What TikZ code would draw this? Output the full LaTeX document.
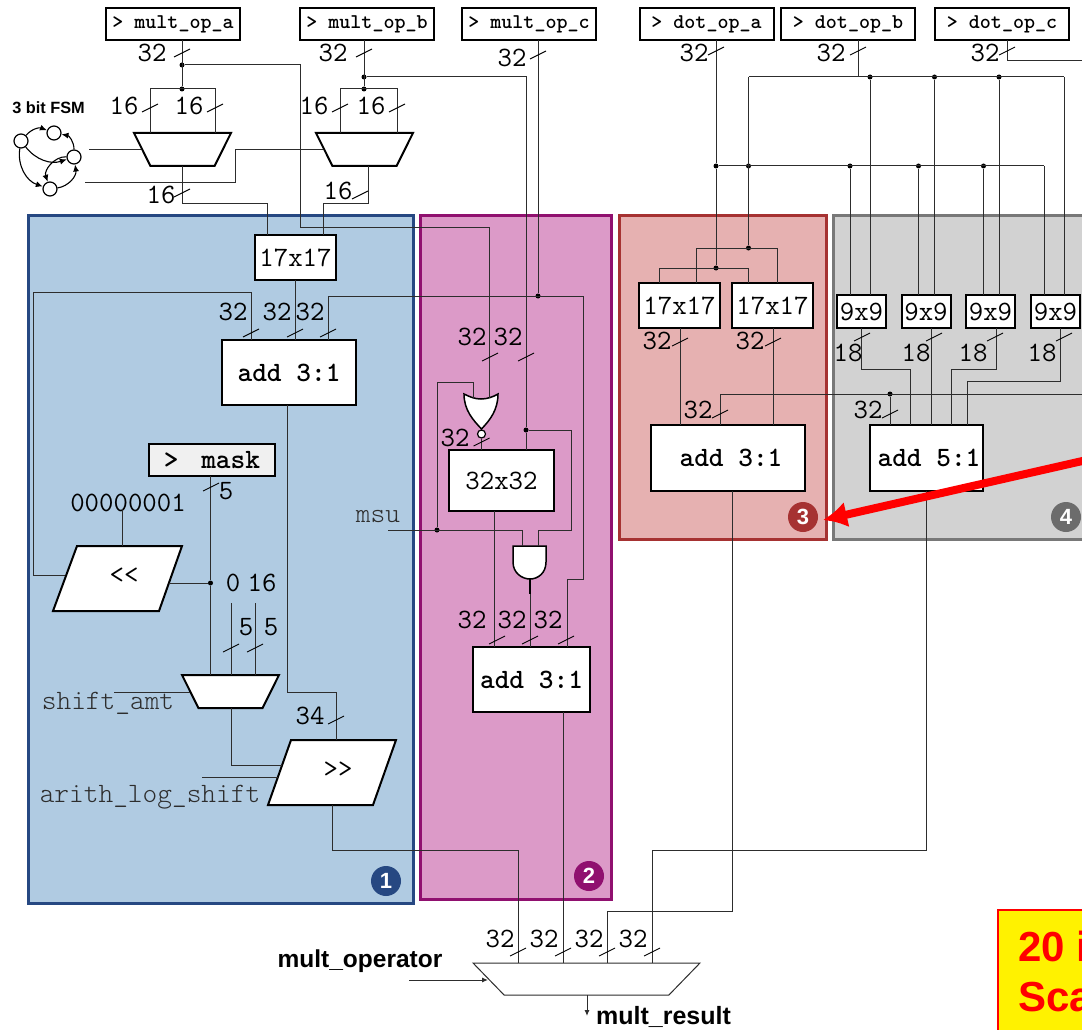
\documentclass[tikz,border=0pt]{standalone}
\usepackage{xcolor}
\usepackage{fontspec}
\setsansfont{Liberation Sans}
\usepackage{tikz}
\usetikzlibrary{shapes.geometric,arrows.meta,positioning,calc}
\definecolor{regionblue}{RGB}{176, 203, 226}
\definecolor{edgeblue}{RGB}{38, 72, 130}
\definecolor{regionpink}{RGB}{220, 154, 200}
\definecolor{edgepink}{RGB}{144, 16, 111}
\definecolor{regionred}{RGB}{230, 177, 177}
\definecolor{edgered}{RGB}{166, 50, 50}
\definecolor{regiongray}{RGB}{210, 210, 210}
\definecolor{edgegray}{RGB}{120, 120, 120}
\definecolor{wiregray}{RGB}{45, 45, 45}
\newcommand{\mono}[1]{\ttfamily\fontsize{#1}{#1}\selectfont}
\newcommand{\sans}[1]{\sffamily\bfseries\fontsize{#1}{#1}\selectfont}
\tikzset{
    region/.style={draw,line width=3pt,inner sep=0pt,outer sep=0pt},
    wire/.style={draw=wiregray,line width=1pt},
    junction/.style={circle,fill=black,inner sep=0pt,minimum size=5pt},
    busmark/.style={black,line width=0.9pt},
    buslabel/.style={inner sep=0pt,font=\mono{28}},
    regbox/.style={draw=black,line width=2pt,fill=white,inner sep=0pt,outer sep=0pt,minimum width=134pt,minimum height=32pt,font=\mono{21}\bfseries},
    mulbox/.style={draw=black,line width=2pt,fill=white,inner sep=0pt,outer sep=0pt,font=\mono{28}},
    addbox/.style={mulbox,font=\mono{28}\bfseries},
    muxbox/.style={trapezium,shape border rotate=180,trapezium angle=72.5,trapezium stretches=true,draw=black,line width=2pt,fill=white,inner sep=0pt,outer sep=0pt,minimum width=97pt,minimum height=33pt},
    shiftbox/.style={draw=black,line width=2pt,fill=white},
    gatebox/.style={draw=black,line width=1.5pt,fill=white},
    fsmstate/.style={circle,draw=black,line width=1.2pt,fill=white,inner sep=0pt,minimum size=14pt},
    fsmedge/.style={black,line width=1.1pt,-{Latex[length=7pt,width=6pt]}},
    badge/.style={circle,inner sep=0pt,minimum size=30pt,text=white,font=\sans{22}},
    sigtext/.style={inner sep=0pt,text=wiregray,font=\mono{28}\fontseries{l}\selectfont},
}

\begin{document}
\begin{tikzpicture}[x=1pt,y=-1pt]
    \useasboundingbox (0,0) rectangle (1082,1030);
    \clip (0,0) rectangle (1082,1030);

    % Four shaded multiplier paths
    \node[region,draw=edgeblue,fill=regionblue,minimum width=385pt,minimum height=688pt] (blue) at (220.5,559) {};
    \node[region,draw=edgepink,fill=regionpink,minimum width=191pt,minimum height=684pt] (pink) at (515.5,557) {};
    \node[region,draw=edgered,fill=regionred,minimum width=207pt,minimum height=324pt] (red) at (722.5,377) {};
    \node[region,draw=edgegray,fill=regiongray,minimum width=267pt,minimum height=324pt] (gray) at (966.5,377) {};

    % Operand registers
    \node[regbox] (opa) at (173,24) {> mult\_op\_a};
    \node[regbox] (opb) at (367,24) {> mult\_op\_b};
    \node[regbox] (opc) at (529,24) {> mult\_op\_c};
    \node[regbox] (dota) at (706.5,24) {> dot\_op\_a};
    \node[regbox] (dotb) at (848,24) {> dot\_op\_b};
    \node[regbox] (dotc) at (1002,24) {> dot\_op\_c};

    % Path 1 blocks
    \node[muxbox] (muxa) at (182.5,149.5) {\phantom{x}};
    \node[muxbox] (muxb) at (364.5,149.5) {\phantom{x}};
    \node[mulbox,minimum width=81pt,minimum height=45pt] (mula) at (295.5,257.5) {17x17};
    \node[addbox,minimum width=134pt,minimum height=65pt] (addb) at (289,372.5) {add 3:1};
    \node[regbox,fill=black!6,minimum width=126pt,font=\mono{28}\bfseries] (mask) at (212,460) {>\ \hspace{8pt}mask\hspace{23pt}};
    \node[buslabel] (zeros) at (128,503) {00000001};
    \filldraw[shiftbox] (77,546) -- (182,546) -- (159,611) -- (53,611) -- cycle;
    \node[buslabel] (shl) at (124,576) {<<};
    \node[muxbox] (muxc) at (230.5,691.5) {\phantom{x}};
    \filldraw[shiftbox] (291,740) -- (396,740) -- (373,805) -- (268,805) -- cycle;
    \node[buslabel] (shr) at (338,770) {>>};
    \node[sigtext] (shamt) at (108,703) {shift\_amt};
    \node[sigtext] (arith) at (150,797) {arith\_log\_shift};

    % Path 2 blocks
    \node[mulbox,minimum width=105pt,minimum height=61pt] (mulp) at (501.5,480.5) {32x32};
    \node[addbox,minimum width=117pt,minimum height=65pt] (addp) at (531.5,679.5) {add 3:1};
    \node[sigtext] (msu) at (378,517) {msu};
    \filldraw[gatebox] (464,394) .. controls (470,397) and (475,399) .. (481,399) .. controls (487,399) and (493,397) .. (498,394) .. controls (498,410) and (490,420) .. (481.5,429) .. controls (473,420) and (464,410) .. (464,394) -- cycle;
    \node[circle,draw=black,line width=1.2pt,fill=white,inner sep=0pt,minimum size=8pt] (bub) at (481.5,434) {};
    \filldraw[gatebox] (513,546) -- (546,546) -- (546,562) .. controls (546,573) and (538,579) .. (530,579) .. controls (522,579) and (513,573) .. (513,562) -- cycle;

    % Path 3 blocks
    \node[mulbox,minimum width=81pt,minimum height=45pt] (mulc) at (679.5,305.5) {17x17};
    \node[mulbox,minimum width=81pt,minimum height=45pt] (muld) at (772.5,305.5) {17x17};
    \node[addbox,minimum width=154pt,minimum height=66pt] (addr) at (728,458) {\hspace{6pt}add 3:1};

    % Path 4 blocks
    \foreach \x/\nm in {861.5/e,926/f,990.5/g,1055.5/h}
        \node[mulbox,minimum width=49pt,minimum height=33pt] (nine\nm) at (\x,311.5) {9x9};
    \node[addbox,minimum width=113pt,minimum height=66pt] (addg) at (926,458) {\hspace{6pt}add 5:1};

    % Output select
    \node[trapezium,shape border rotate=180,trapezium angle=77,trapezium stretches=true,draw=wiregray,line width=1pt,fill=white,inner sep=0pt,outer sep=0pt,minimum width=227pt,minimum height=32pt] (muxo) at (586.5,979) {\phantom{x}};
    \node[inner sep=0pt,font=\sans{24.5}] (oplabel) at (360,961) {mult\_operator};
    \node[inner sep=0pt,font=\sans{25}] (reslabel) at (663.5,1017) {mult\_result};

    % Operand a and b fan-out
    \node[junction] (ja1) at (182,65) {};
    \node[junction] (ja2) at (182,89) {};
    \coordinate (ja3) at (150,89);
    \coordinate (ja4) at (215,89);
    \node[junction] (jb1) at (364,77) {};
    \node[junction] (jb2) at (364,89) {};
    \coordinate (jb3) at (340,89);
    \coordinate (jb4) at (397,89);
    \draw[wire] (ja1 |- opa.south) -- (ja2);
    \draw[wire] (ja3 |- muxa.north) |- (ja4) -- (ja4 |- muxa.north);
    \draw[wire] (jb1 |- opb.south) -- (jb2);
    \draw[wire] (jb3 |- muxb.north) |- (jb4) -- (jb4 |- muxb.north);
    \coordinate (ma) at (267,203);
    \coordinate (mb) at (368.5,166);
    \coordinate (mc) at (323.5,203);
    \draw[wire] (ja2 |- muxa.south) |- (ma) -- (ma |- mula.north);
    \draw[wire] (mb) |- (mc) -- (mc |- mula.north);

    % Operand a and b into path 2
    \coordinate (ra1) at (300,227);
    \coordinate (ra2) at (489,227);
    \coordinate (ra3) at (489,398);
    \node[junction] (jd1) at (526,430) {};
    \coordinate (rb1) at (571,530);
    \coordinate (rb2) at (538,530);
    \coordinate (rb3) at (538,546);
    \draw[wire] (ja1) -| (ra1) -- (ra2) -- (ra3);
    \draw[wire] (jb1) -| (jd1) -- (jd1 |- mulp.north);
    \draw[wire] (jd1) -| (rb1) -- (rb2) -- (rb3);

    % Operand c
    \node[junction] (jc1) at (538,296) {};
    \coordinate (rc1) at (328,296);
    \coordinate (rc2) at (583,296);
    \coordinate (rc3) at (583,579);
    \coordinate (rc4) at (567,579);
    \draw[wire] (jc1 |- opc.south) -- (jc1);
    \draw[wire] (rc1 |- addb.north) -- (rc1) -- (rc2) -- (rc3) -- (rc4) -- (rc4 |- addp.north);

    % Path 1 wiring
    \coordinate (fb1) at (251,292);
    \coordinate (fb2) at (33,292);
    \coordinate (fb3) at (33,575);
    \coordinate (fb4) at (65,575);
    \coordinate (zr1) at (122,509);
    \coordinate (zr2) at (122,546);
    \node[junction] (jm1) at (210.5,583) {};
    \coordinate (shlin) at (169,583);
    \coordinate (cz1) at (231,603);
    \coordinate (cz2) at (255,603);
    \coordinate (sa1) at (114,692);
    \coordinate (sa2) at (190,692);
    \coordinate (sr1) at (231,765);
    \coordinate (sr2) at (282,765);
    \coordinate (al1) at (202,777);
    \coordinate (al2) at (278,777);
    \coordinate (ad1) at (287.5,692);
    \coordinate (ad2) at (336,692);
    \coordinate (ad3) at (336,740);
    \coordinate (so0) at (332,805);
    \coordinate (so1) at (332,850);
    \coordinate (so2) at (518,850);
    \draw[wire] (mula.south) -- (mula.south |- addb.north);
    \draw[wire] (fb1 |- addb.north) -- (fb1) -- (fb2) -- (fb3) -- (fb4);
    \draw[wire] (zr1) -- (zr2);
    \draw[wire] (jm1 |- mask.south) -- (jm1) -- (jm1 |- muxc.north);
    \draw[wire] (shlin) -- (jm1);
    \draw[wire] (cz1) -- (cz1 |- muxc.north);
    \draw[wire] (cz2) -- (cz2 |- muxc.north);
    \draw[wire] (sa1) -- (sa2);
    \draw[wire] (sr1 |- muxc.south) -- (sr1) -- (sr2);
    \draw[wire] (al1) -- (al2);
    \draw[wire] (ad1 |- addb.south) -- (ad1) -- (ad2) -- (ad3);
    \draw[wire] (so0) -- (so1) -- (so2) -- (so2 |- muxo.north);

    % Path 2 wiring
    \node[junction] (je1) at (437,530) {};
    \coordinate (ms1) at (388,530);
    \coordinate (ms2) at (522,530);
    \coordinate (ms3) at (522,546);
    \coordinate (no1) at (437,382);
    \coordinate (no2) at (473,382);
    \coordinate (no3) at (473,398);
    \coordinate (an1) at (530,579);
    \coordinate (pa1) at (494,647);
    \coordinate (po1) at (563,712);
    \draw[wire] (ms1) -- (ms2) -- (ms3);
    \draw[wire] (je1) -- (no1) -- (no2) -- (no3);
    \draw[wire] (bub) -- (bub |- mulp.north);
    \draw[wire] (pa1 |- mulp.south) -- (pa1);
    \draw[wire] (an1) -- (an1 |- addp.north);
    \draw[black,line width=1.8pt] (an1) -- ++(0,15);
    \draw[wire] (po1) -- (po1 |- muxo.north);

    % Dot operands
    \node[junction] (jf1) at (716,166) {};
    \node[junction] (jf2) at (748.5,166) {};
    \node[junction] (jf3) at (850,166) {};
    \node[junction] (jf4) at (918.5,166) {};
    \node[junction] (jf5) at (983.5,166) {};
    \coordinate (jf6) at (1044,166);
    \coordinate (jg1) at (748.5,77);
    \coordinate (jg2) at (858,77);
    \node[junction] (jg3) at (870,77) {};
    \node[junction] (jg4) at (934.5,77) {};
    \node[junction] (jg5) at (999,77) {};
    \coordinate (jg6) at (1064,77);
    \coordinate (dc1) at (1007,61);
    \coordinate (dc2) at (1090,61);
    \draw[wire] (jf1 |- dota.south) -- (jf1);
    \draw[wire] (jg2 |- dotb.south) -- (jg2);
    \draw[wire] (dc1 |- dotc.south) -- (dc1) -- (dc2);
    \draw[wire] (jf1) -- (jf6);
    \draw[wire] (jg1) -- (jg6);
    \foreach \a in {f3,f4,f5,f6,g3,g4,g5,g6}
        \draw[wire] (j\a) -- (j\a |- ninee.north);

    % Path 3 wiring
    \node[junction] (jh1) at (716,268) {};
    \node[junction] (jh2) at (748.5,248) {};
    \coordinate (hl1) at (659,268);
    \coordinate (hl2) at (748.5,268);
    \coordinate (hl3) at (696,248);
    \coordinate (hl4) at (777,248);
    \draw[wire] (jf1) -- (jh1);
    \draw[wire] (jg1) -- (jh2);
    \draw[wire] (hl1 |- mulc.north) -- (hl1) -- (hl2) -- (hl2 |- muld.north);
    \draw[wire] (hl3 |- mulc.north) -- (hl3) -- (hl4) -- (hl4 |- muld.north);
    \coordinate (rd1) at (680,328);
    \coordinate (rd2) at (773,328);
    \coordinate (rd3) at (720,394);
    \coordinate (rd4) at (1090,394);
    \node[junction] (jk1) at (890,394) {};
    \draw[wire] (rd1) -- (rd1 |- addr.north);
    \draw[wire] (rd2) -- (rd2 |- addr.north);
    \draw[wire] (rd3 |- addr.north) -- (rd3) -- (rd4);
    \draw[wire] (jk1) -- (jk1 |- addg.north);

    % Path 4 wiring
    \coordinate (na1) at (861.5,369.5);
    \coordinate (na2) at (910,369.5);
    \coordinate (nb1) at (931,328);
    \coordinate (nc1) at (996,369.5);
    \coordinate (nc2) at (951,369.5);
    \coordinate (nd1) at (1060,381.5);
    \coordinate (nd2) at (967,381.5);
    \draw[wire] (ninee.south) -- (na1) -- (na2) -- (na2 |- addg.north);
    \draw[wire] (nb1) -- (nb1 |- addg.north);
    \draw[wire] (nc1 |- nineg.south) -- (nc1) -- (nc2) -- (nc2 |- addg.north);
    \draw[wire] (nd1 |- nineh.south) -- (nd1) -- (nd2) -- (nd2 |- addg.north);

    % Into the output select
    \coordinate (ot1) at (732,911);
    \coordinate (ot2) at (607,911);
    \coordinate (ou1) at (926,850);
    \coordinate (ou2) at (652,850);
    \coordinate (ov1) at (409,980);
    \coordinate (ov2) at (488,980);
    \coordinate (ow1) at (587,995);
    \coordinate (ow2) at (587,1016);
    \draw[wire] (ot1 |- addr.south) -- (ot1) -- (ot2) -- (ot2 |- muxo.north);
    \draw[wire] (ou1 |- addg.south) -- (ou1) -- (ou2) -- (ou2 |- muxo.north);
    \draw[wire,-{Latex[length=6pt,width=5pt]}] (ov1) -- (ov2);
    \draw[wire,-{Latex[length=6pt,width=5pt]}] (ow1) -- (ow2);

    % 3 bit FSM
    \node[inner sep=0pt,font=\sans{16.3}] (fsm) at (48.5,108) {3 bit FSM};
    \node[fsmstate] (fa) at (21,141) {};
    \node[fsmstate] (fb) at (54,133) {};
    \node[fsmstate] (fc) at (74,157) {};
    \node[fsmstate] (fd) at (50,189) {};
    \draw[fsmedge] (fa) to[bend left=35] (fb);
    \draw[fsmedge] (fc) to[bend right=40] (fb);
    \draw[fsmedge] (fa) to[bend right=35] (fc);
    \draw[fsmedge] (fa) to[bend right=40] (fd);
    \draw[fsmedge] (fc) to[bend right=55] (fd);
    \draw[fsmedge] (fd) to[bend right=45] (fc);
    \coordinate (fs1) at (89,150);
    \coordinate (fs2) at (141,150);
    \coordinate (fs3) at (85,183);
    \coordinate (fs4) at (235,183);
    \coordinate (fs5) at (235,150);
    \coordinate (fs6) at (323,150);
    \draw[wire] (fs1) -- (fs2);
    \draw[wire] (fs3) -- (fs4) -- (fs5) -- (fs6);

    % Bus widths
    \foreach \x/\y/\lbl [count=\i] in {152/53/32,333/53/32,512/58/32,694/53/32,831/53/32,985/53/32,
        124/106/16,189/106/16,314/106/16,371/106/16,161/195/16,338/191/16,
        233/312/32,277/312/32,310/312/32,226/491/5,233/583/0,262/583/16,246/627/5,271/627/5,310/716/34,
        472/337/32,508/337/32,455/438/32,472/620/32,512/620/32,548/620/32,
        657/341/32,750/341/32,698/410/32,868/410/32,848/353/18,916/353/18,973/353/18,1042/353/18,
        500/939/32,544/939/32,589/939/32,633/939/32}
        \node[buslabel] (bus\i) at (\x,\y) {\lbl};
    \foreach \x/\y in {182/53,364/53,538/55,716/51,858/51,1007/51,
        150/108,215/108,340/108,397/108,182/193,360/195,
        251/333,295/333,328/333,211/487,231/648,255/648,336/720,
        490/357,526/357,481.5/442,497/640,530/640,566/640,
        680/342,773/342,720/414,890/414,862/337,934/337,995/337,1064/337,
        518/952,563/952,607/952,652/952}
        \draw[busmark] (\x-8,\y+4) -- (\x+8,\y-4);

    % Path numbers
    \node[badge,fill=edgeblue] (one) at (386,881) {1};
    \node[badge,fill=edgepink] (two) at (589,876) {2};
    \node[badge,fill=edgered] (three) at (803,517) {3};
    \node[badge,fill=edgegray!90!black] (four) at (1066,517) {4};

    % Clipped call-out
    \node[draw=red,line width=1.5pt,fill=yellow,inner sep=0pt,outer sep=0pt,minimum width=120pt,minimum height=150pt] (callout) at (1058,985) {};
    \node[anchor=west,inner sep=0pt,text=red,font=\sans{42}] (calla) at (1018,946) {20 i};
    \node[anchor=west,inner sep=0pt,text=red,font=\sans{42}] (callb) at (1018,997) {Sca};
    \coordinate (arrowtail) at (1100,457);
    \coordinate (arrowtip) at (823,520);
    \draw[red,line width=8pt,-{Latex[length=24pt,width=26pt]}] (arrowtail) -- (arrowtip);
\end{tikzpicture}
\end{document}
